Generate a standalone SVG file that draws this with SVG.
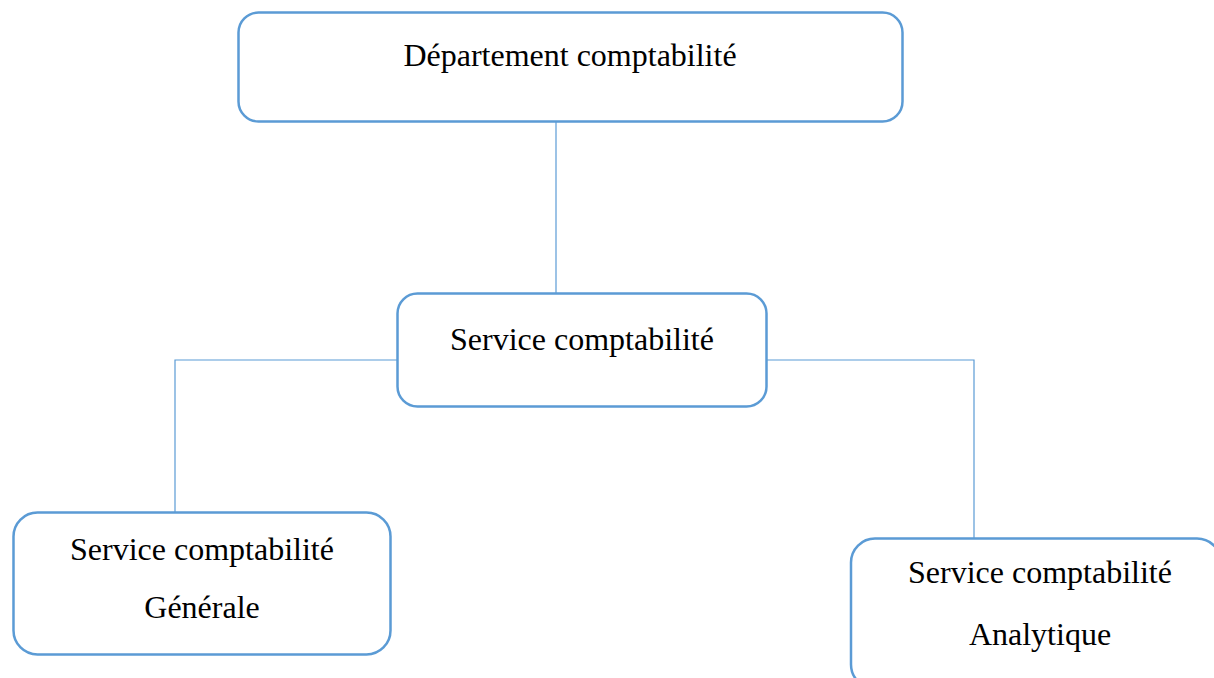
<svg xmlns="http://www.w3.org/2000/svg" width="1214" height="678" viewBox="0 0 1214 678">
<style>
.box{fill:#fff;stroke:#5B9BD5;stroke-width:2.5}
.lbl{font-family:"Liberation Serif","Times New Roman",serif;font-size:32px;fill:#000;text-anchor:middle}
.con{fill:none;stroke:#5B9BD5;stroke-width:1.2}
</style>
<rect width="1214" height="678" fill="#fff"/>
<g id="connectors">
<line class="con" x1="556" y1="121" x2="556" y2="293"/>
<polyline class="con" points="397,360 175,360 175,512"/>
<polyline class="con" points="767,360 974,360 974,538"/>
</g>
<g id="dept">
<rect class="box" x="238.5" y="12.5" width="664" height="109" rx="20"/>
<text class="lbl" x="570" y="66">Département comptabilité</text>
</g>
<g id="service">
<rect class="box" x="397.5" y="293.5" width="369" height="113" rx="20"/>
<text class="lbl" x="582" y="350">Service comptabilité</text>
</g>
<g id="generale">
<rect class="box" x="13.5" y="512.5" width="377" height="142" rx="24"/>
<text class="lbl" x="202" y="560">Service comptabilité</text>
<text class="lbl" x="202" y="618">Générale</text>
</g>
<g id="analytique">
<rect class="box" x="851" y="538.5" width="370" height="150" rx="24"/>
<text class="lbl" x="1040" y="583">Service comptabilité</text>
<text class="lbl" x="1040" y="645">Analytique</text>
</g>
</svg>
